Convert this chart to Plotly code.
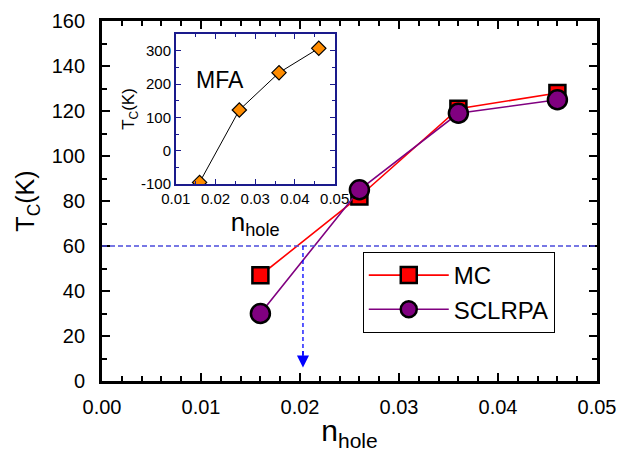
import plotly.graph_objects as go

# ---- data ----
n_hole = [0.016, 0.026, 0.036, 0.046]
tc_mc = [47, 82, 121, 128]
tc_sclrpa = [30, 85, 119, 125]
tc_mfa = [-95, 122, 234, 307]

threshold_tc = 60
n_at_threshold = 0.0203
arrow_bottom_tc = 6

main_x_ticks = [0.00, 0.01, 0.02, 0.03, 0.04, 0.05]
main_y_ticks = [0, 20, 40, 60, 80, 100, 120, 140, 160]
inset_x_ticks = [0.01, 0.02, 0.03, 0.04, 0.05]
inset_y_ticks = [-100, 0, 100, 200, 300]
inset_y_labels = ["-100", "0", "100", "200", "300"]

FONT = "Arial, Liberation Sans, sans-serif"
NAVY = "#1a1a8c"

fig = go.Figure()

fig.add_trace(go.Scatter(
    x=n_hole, y=tc_mc, name="MC", mode="lines+markers",
    line=dict(color="#ff0000", width=1.6),
    marker=dict(symbol="square", size=16, color="#ff0000",
                line=dict(color="black", width=2.5)),
))
fig.add_trace(go.Scatter(
    x=n_hole, y=tc_sclrpa, name="SCLRPA", mode="lines+markers",
    line=dict(color="#800080", width=1.6),
    marker=dict(symbol="circle", size=19, color="#800080",
                line=dict(color="black", width=2.5)),
))
fig.add_trace(go.Scatter(
    x=n_hole, y=tc_mfa, name="MFA", mode="lines+markers", showlegend=False,
    xaxis="x2", yaxis="y2",
    line=dict(color="black", width=1),
    marker=dict(symbol="diamond", size=11, color="#ff8c00",
                line=dict(color="black", width=1.2)),
))

# dashed horizontal line
fig.add_shape(type="line", xref="x", yref="y",
              x0=main_x_ticks[0], x1=main_x_ticks[-1], y0=threshold_tc, y1=threshold_tc,
              line=dict(color="#4b4bdc", width=1.3, dash="5px,3px"))
# dashed vertical arrow
fig.add_shape(type="line", xref="x", yref="y",
              x0=n_at_threshold, x1=n_at_threshold, y0=threshold_tc, y1=arrow_bottom_tc + 5,
              line=dict(color="#0000ff", width=1.3, dash="4px,3px"))
fig.add_annotation(x=n_at_threshold, y=arrow_bottom_tc, ax=n_at_threshold, ay=arrow_bottom_tc + 8,
                   xref="x", yref="y", axref="x", ayref="y", text="",
                   showarrow=True, arrowhead=2, arrowsize=1.6, arrowwidth=1.5,
                   arrowcolor="#0000ff")

fig.add_annotation(x=0.0211, y=212, xref="x2", yref="y2", text="MFA",
                   showarrow=False, font=dict(family=FONT, size=23, color="black"))

main_axis = dict(showline=True, linecolor="black", linewidth=2.8, mirror="allticks",
                 ticks="inside", ticklen=8, tickwidth=2, tickcolor="black",
                 showgrid=False, zeroline=False, automargin=False,
                 tickfont=dict(family=FONT, size=20, color="black"))

fig.update_layout(
    width=618, height=453,
    margin=dict(l=102, r=21, t=21, b=72),
    paper_bgcolor="white", plot_bgcolor="white",
    showlegend=True,
    legend=dict(x=0.5268, y=0.3583, xanchor="left", yanchor="top",
                bgcolor="white", bordercolor="black", borderwidth=1,
                font=dict(family=FONT, size=24, color="black"),
                itemwidth=80, tracegroupgap=0),
    xaxis=dict(range=[0, 0.05], tickvals=main_x_ticks, tickformat=".2f",
               ticklabelstandoff=6,
               minor=dict(dtick=0.002, ticks="inside", ticklen=5, tickwidth=2, tickcolor="black"),
               title=dict(text="n<sub>hole</sub>", font=dict(family=FONT, size=30, color="black"),
                          standoff=4),
               **main_axis),
    yaxis=dict(range=[0, 160], tickvals=main_y_ticks,
               ticklabelstandoff=10,
               minor=dict(dtick=10, ticks="inside", ticklen=5, tickwidth=2, tickcolor="black"),
               title=dict(text="T<sub>C</sub>(K)", font=dict(family=FONT, size=25, color="black"),
                          standoff=10),
               **main_axis),
    xaxis2=dict(domain=[0.149, 0.470], anchor="y2", range=[0.01, 0.05],
                tickvals=inset_x_ticks, tickformat=".2f", automargin=False,
                showline=True, linecolor=NAVY, linewidth=1.5, mirror="allticks",
                ticks="inside", ticklen=5, tickwidth=1, tickcolor=NAVY,
                minor=dict(dtick=0.005, ticks="inside", ticklen=3, tickwidth=1, tickcolor=NAVY),
                showgrid=False, zeroline=False,
                tickfont=dict(family=FONT, size=15, color="black"),
                title=dict(text="n<sub>hole</sub>", font=dict(family=FONT, size=26, color="black"),
                           standoff=0)),
    yaxis2=dict(domain=[0.547, 0.964], anchor="x2", range=[-100, 350],
                tickvals=inset_y_ticks, ticktext=inset_y_labels, automargin=False,
                showline=True, linecolor=NAVY, linewidth=1.5, mirror="allticks",
                ticks="inside", ticklen=5, tickwidth=1, tickcolor=NAVY,
                minor=dict(dtick=50, ticks="inside", ticklen=3, tickwidth=1, tickcolor=NAVY),
                showgrid=False, zeroline=False,
                tickfont=dict(family=FONT, size=15, color="black"),
                title=dict(text="T<sub>C</sub>(K)", font=dict(family=FONT, size=17, color="black"),
                           standoff=2)),
)

fig.write_html("out.html")
